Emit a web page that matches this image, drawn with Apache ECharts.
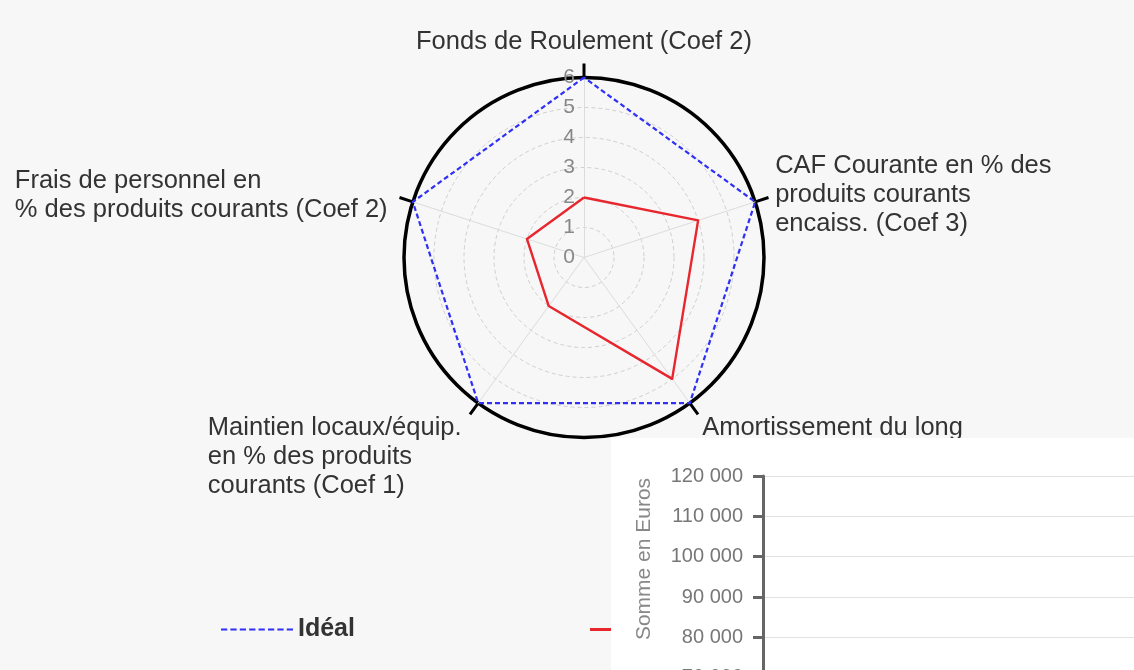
<!DOCTYPE html>
<html>
<head>
<meta charset="utf-8">
<script src="https://cdn.jsdelivr.net/npm/echarts@6/dist/echarts.min.js"></script>
<style>
html,body{margin:0;padding:0;background:#f7f7f7;}
#chart{width:1134px;height:670px;}
</style>
</head>
<body>
<div id="chart"></div>
<script>
// ---- data ----
const indicators = [
  'Fonds de Roulement (Coef 2)',
  'Frais de personnel en\n% des produits courants (Coef 2)',
  'Maintien locaux/équip.\nen % des produits\ncourants (Coef 1)',
  'Amortissement du long',
  'CAF Courante en % des\nproduits courants\nencaiss. (Coef 3)'
];
const radarMax = 6;
const idealValues = [6, 6, 6, 6, 6];
const actualValues = [2, 2, 2, 5, 4];
const seriesNames = ['Idéal', 'Réel'];
const euroMin = 60000;
const euroMax = 120000;
const euroInterval = 10000;
const euroAxisName = 'Somme en Euros';

const chart = echarts.init(document.getElementById('chart'), null, {renderer: 'canvas'});

const FONT = 'Liberation Sans, Arial, sans-serif';
const CX = 584, CY = 257.5, R = 180;

function dashPath(n) {
  let p = 'path://';
  for (let i = 0; i < n; i++) {
    const x = i * 9;
    p += 'M' + x + ',0h6v2h-6z';
  }
  return p;
}

function nameFormatter(name) {
  const idx = indicators.indexOf(name);
  const lines = name.split('\n');
  if (idx === 1) {
    return lines.map(l => '{l|' + l + '}').join('\n');
  }
  if (idx === 2) {
    return '{g| }\n{g| }\n' + lines.map(l => '{b|' + l + '}').join('\n');
  }
  if (idx === 3) {
    return '{h| }\n' + name;
  }
  return name;
}

const option = {
  backgroundColor: '#f7f7f7',
  animation: false,
  textStyle: {fontFamily: FONT},
  legend: {
    left: 216,
    top: 612,
    itemWidth: 72,
    itemHeight: 3,
    itemGap: 235,
    textStyle: {fontSize: 25, fontWeight: 'bold', color: '#333', fontFamily: FONT},
    data: [
      {name: seriesNames[0], icon: dashPath(8)},
      {name: seriesNames[1], icon: 'rect'}
    ]
  },
  polar: {center: [CX, CY], radius: R},
  angleAxis: {
    type: 'value', min: 0, max: 360, interval: 72, startAngle: 90,
    axisLine: {show: true, lineStyle: {color: '#000', width: 3.5}},
    axisTick: {show: true, inside: false, length: 14, lineStyle: {color: '#000', width: 3}},
    axisLabel: {show: false},
    splitLine: {show: false}
  },
  radiusAxis: {
    type: 'value', min: 0, max: radarMax, interval: 1,
    axisLine: {show: false},
    axisTick: {show: false},
    splitLine: {show: false},
    axisLabel: {show: true, color: '#888', fontSize: 21, fontFamily: FONT, margin: 9}
  },
  radar: {
    center: [CX, CY],
    radius: R,
    startAngle: 90,
    shape: 'circle',
    splitNumber: 6,
    nameGap: 21,
    indicator: indicators.map(n => ({name: n, max: radarMax, min: 0})),
    axisName: {
      color: '#333',
      fontSize: 25.5,
      lineHeight: 29,
      fontFamily: FONT,
      formatter: nameFormatter,
      rich: {
        l: {width: 378, align: 'left', fontSize: 25.5, lineHeight: 29, color: '#333', fontFamily: FONT},
        b: {width: 258, align: 'left', fontSize: 25.5, lineHeight: 29, color: '#333', fontFamily: FONT},
        g: {fontSize: 10, lineHeight: 37},
        h: {fontSize: 10, lineHeight: 16}
      }
    },
    axisLine: {lineStyle: {color: '#dcdcdc', width: 1}},
    splitLine: {lineStyle: {color: '#cfcfcf', width: 1, type: [4, 3]}},
    splitArea: {show: false}
  },
  grid: [
    {left: 763, top: 476, width: 400, height: 242, show: false, outerBoundsMode: 'none', containLabel: false},
    {left: 763, top: 476, width: 400, height: 166, show: false, outerBoundsMode: 'none', containLabel: false}
  ],
  xAxis: [
    {type: 'category', gridIndex: 0, show: false, data: ['']},
    {type: 'category', gridIndex: 1, show: false, data: ['']}
  ],
  yAxis: [
    {
      type: 'value', gridIndex: 0, min: euroMin, max: euroMax, interval: euroInterval, z: 60,
      axisLine: {show: true, lineStyle: {color: '#666', width: 3}},
      axisTick: {show: true, length: 10, lineStyle: {color: '#666', width: 3}},
      axisLabel: {color: '#777', fontSize: 20, margin: 20, fontFamily: FONT,
        formatter: v => String(v).replace(/\B(?=(\d{3})+(?!\d))/g, ' ')},
      splitLine: {show: true, lineStyle: {color: '#e2e2e2', width: 1}}
    },
    {
      type: 'value', gridIndex: 1, min: 0, max: 1, z: 60,
      name: euroAxisName, nameLocation: 'middle', nameRotate: 90, nameGap: 108,
      nameTextStyle: {color: '#888', fontSize: 21, fontFamily: FONT},
      axisLine: {show: false}, axisTick: {show: false}, axisLabel: {show: false}, splitLine: {show: false}
    }
  ],
  graphic: [
    {type: 'rect', z: 50, shape: {x: 611, y: 438, width: 530, height: 240}, style: {fill: '#ffffff'}}
  ],
  series: [
    {
      name: seriesNames[0], type: 'radar', symbol: 'none', z: 3,
      itemStyle: {color: '#2f2ff5'},
      lineStyle: {color: '#2f2ff5', width: 2.2, type: [5, 3]},
      data: [{value: idealValues, name: seriesNames[0]}]
    },
    {
      name: seriesNames[1], type: 'radar', symbol: 'none', z: 2,
      itemStyle: {color: '#e8262e'},
      lineStyle: {color: '#e8262e', width: 2.4},
      data: [{value: actualValues, name: seriesNames[1]}]
    }
  ]
};
chart.setOption(option);
</script>
</body>
</html>
